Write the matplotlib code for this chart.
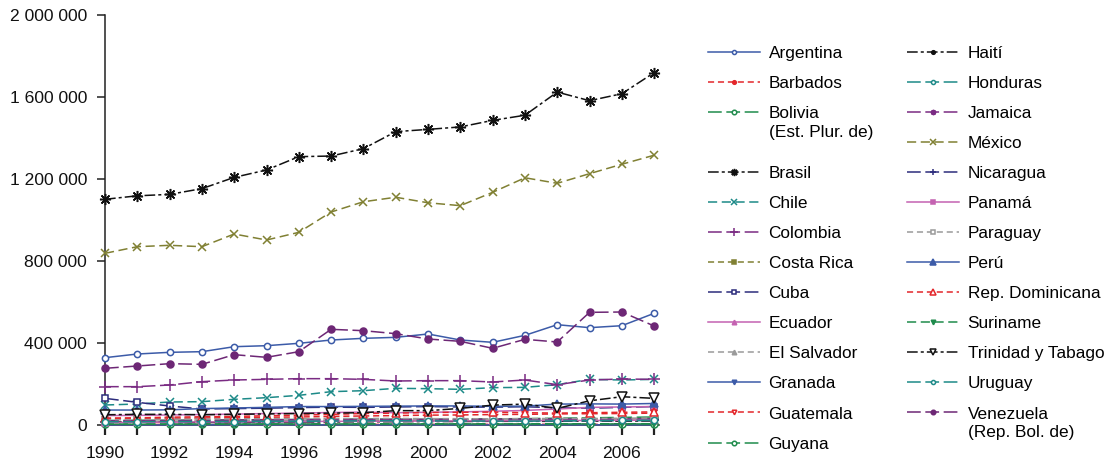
import matplotlib
matplotlib.use("Agg")
import matplotlib.pyplot as plt
from matplotlib.lines import Line2D
from matplotlib.ticker import FuncFormatter, MultipleLocator, FixedLocator

plt.rcParams['font.family'] = ['Liberation Sans', 'DejaVu Sans']

years = list(range(1990, 2008))

argentina = [328400, 346300, 354500, 357700, 382000, 386900, 398400, 414600, 422800,
             427600, 443900, 414600, 403300, 437400, 489300, 474800, 484400, 544800]
barbados = [2600, 2600, 2700, 2700, 2800, 2800, 2900, 3000, 3100,
            3200, 3200, 3300, 3300, 3400, 3400, 3500, 3500, 3600]
bolivia = [22000, 23000, 23000, 24000, 25000, 26000, 27000, 28000, 29000,
           28000, 28000, 29000, 30000, 31000, 33000, 35000, 37000, 39000]
brasil = [1101000, 1118000, 1125000, 1153000, 1208000, 1244000, 1309000, 1312000, 1348000,
          1431000, 1442000, 1454000, 1486000, 1511000, 1624000, 1582000, 1616000, 1719000]
chile = [97600, 102400, 112200, 113800, 125200, 133300, 144700, 162600, 167400,
         178900, 177200, 174000, 182100, 183700, 196700, 222700, 219500, 222700]
colombia = [187000, 187000, 195100, 211400, 219500, 222700, 226000, 226000, 222700,
            214600, 216300, 216300, 209800, 219500, 196700, 219500, 224400, 222700]
costa_rica = [15000, 16000, 17000, 18000, 19000, 20000, 21000, 22000, 23000,
              24000, 24000, 25000, 26000, 27000, 28000, 29000, 30000, 32000]
cuba = [130000, 110600, 92700, 78000, 80000, 82000, 85000, 87000, 86000,
        88000, 90000, 88000, 87000, 89000, 84000, 82000, 86000, 90000]
ecuador = [46000, 47000, 49000, 51000, 53000, 56000, 58000, 61000, 63000,
           60000, 62000, 64000, 67000, 71000, 78000, 86000, 88000, 90000]
el_salvador = [17000, 18000, 19000, 20000, 22000, 23000, 24000, 24000, 25000,
               25000, 26000, 27000, 27000, 28000, 29000, 29000, 30000, 30000]
granada = [500, 520, 540, 560, 580, 600, 620, 640, 660,
           680, 700, 720, 740, 760, 780, 800, 820, 840]
guatemala = [30000, 31000, 33000, 34000, 36000, 38000, 39000, 42000, 44000,
             46000, 48000, 49000, 51000, 52000, 54000, 55000, 56000, 58000]
guyana = [3900, 4000, 4100, 4300, 4500, 4800, 5000, 5100, 5200,
          5100, 5000, 5000, 4900, 4900, 5000, 5100, 5200, 5300]
haiti = [14000, 14000, 13000, 12000, 12000, 14000, 15000, 15000, 16000,
         16000, 17000, 17000, 18000, 18000, 18000, 19000, 19000, 20000]
honduras = [14000, 14000, 15000, 16000, 17000, 18000, 18000, 19000, 20000,
            21000, 22000, 23000, 24000, 25000, 26000, 27000, 28000, 29000]
jamaica = [20000, 21000, 22000, 23000, 24000, 25000, 26000, 27000, 27000,
           27000, 27000, 28000, 28000, 29000, 29000, 28000, 30000, 30000]
mexico = [837500, 869800, 876500, 869800, 931700, 902400, 939800, 1039000, 1089000,
          1111000, 1084000, 1070000, 1135000, 1206000, 1179000, 1226000, 1272000, 1316000]
nicaragua = [15000, 15000, 15000, 16000, 16000, 17000, 17000, 18000, 18000,
             19000, 19000, 20000, 20000, 21000, 21000, 22000, 22000, 22000]
panama = [12000, 13000, 14000, 15000, 15000, 16000, 17000, 18000, 18000,
          19000, 19000, 20000, 20000, 21000, 22000, 22000, 23000, 24000]
paraguay = [26000, 27000, 28000, 29000, 30000, 31000, 31000, 32000, 32000,
            32000, 31000, 31000, 30000, 31000, 32000, 32000, 33000, 34000]
peru = [73000, 73000, 74000, 80000, 83000, 86000, 90000, 90000, 91000,
        92000, 93000, 93000, 91000, 92000, 102000, 103000, 102000, 105000]
rep_dominicana = [34000, 35000, 38000, 40000, 42000, 45000, 48000, 52000, 56000,
                  58000, 61000, 62000, 63000, 60000, 58000, 60000, 62000, 64000]
suriname = [4600, 4700, 4800, 4800, 4900, 5000, 5100, 5200, 5300,
            5400, 5500, 5600, 5700, 5800, 5900, 6000, 6100, 6200]
trinidad = [50000, 52000, 52000, 50000, 52000, 54000, 56000, 58000, 60000,
            70000, 70000, 81000, 97000, 102000, 81000, 118000, 138000, 130000]
uruguay = [16000, 16000, 17000, 17000, 17000, 18000, 18000, 19000, 20000,
           21000, 20000, 20000, 19000, 19000, 20000, 21000, 22000, 23000]
venezuela = [276500, 287800, 299200, 295900, 343100, 330100, 357700, 466700, 460100,
             445500, 419500, 408100, 374000, 417900, 404900, 549600, 551200, 482900]

# colour palette
BLUE = '#3c5ba8'
RED = '#e3262b'
GREEN = '#1f8b4c'
BLACK = '#111111'
TEAL = '#1d8a88'
PURPLE = '#7a2b83'
OLIVE = '#808033'
NAVY = '#2c2c7c'
PINK = '#c462b1'
GRAY = '#9a9a9a'
PLUM = '#6d2775'

LONG = (0, (9, 3))
DASH = (0, (4, 2.5))
MID = (0, (6, 3))
DASHDOT = (0, (7, 2, 2, 2))

# name, values, colour, linestyle, marker, marker face ('w' = open), marker size
series = [
    ("Argentina", argentina, BLUE, '-', 'o', 'w', 4.5),
    ("Barbados", barbados, RED, DASH, 'o', None, 4),
    ("Bolivia\n(Est. Plur. de)", bolivia, GREEN, LONG, 'o', 'w', 5),
    ("Brasil", brasil, BLACK, DASHDOT, (8, 2, 0), None, 8),
    ("Chile", chile, TEAL, MID, 'x', None, 6),
    ("Colombia", colombia, PURPLE, LONG, '+', None, 8),
    ("Costa Rica", costa_rica, OLIVE, DASH, 's', None, 4),
    ("Cuba", cuba, NAVY, LONG, 's', 'w', 5),
    ("Ecuador", ecuador, PINK, '-', '^', None, 5),
    ("El Salvador", el_salvador, GRAY, DASH, '^', None, 5),
    ("Granada", granada, BLUE, '-', 'v', None, 5),
    ("Guatemala", guatemala, RED, DASH, 'v', 'w', 5),
    ("Guyana", guyana, GREEN, LONG, 'o', 'w', 5),
    ("Haití", haiti, BLACK, DASHDOT, 'o', None, 4),
    ("Honduras", honduras, TEAL, LONG, 'o', 'w', 4.5),
    ("Jamaica", jamaica, PURPLE, LONG, (8, 2, 0), None, 6),
    ("México", mexico, OLIVE, MID, 'x', None, 6),
    ("Nicaragua", nicaragua, NAVY, LONG, '+', None, 7),
    ("Panamá", panama, PINK, '-', 's', None, 4),
    ("Paraguay", paraguay, GRAY, DASH, 's', 'w', 4.5),
    ("Perú", peru, BLUE, '-', '^', None, 6),
    ("Rep. Dominicana", rep_dominicana, RED, DASH, '^', 'w', 6),
    ("Suriname", suriname, GREEN, MID, 'v', None, 5),
    ("Trinidad y Tabago", trinidad, BLACK, DASHDOT, 'v', 'w', 7),
    ("Uruguay", uruguay, TEAL, LONG, 'o', 'w', 4.5),
    ("Venezuela\n(Rep. Bol. de)", venezuela, PLUM, LONG, 'o', None, 5),
]

W, H = 1112, 470
fig = plt.figure(figsize=(W / 100, H / 100), dpi=100)
ax = fig.add_axes([105 / W, 1 - 425 / H, (659 - 105) / W, (425 - 15) / H])

handles = {}
for name, vals, col, ls, mk, mfc, ms in series:
    line, = ax.plot(years, vals, color=col, linestyle=ls, linewidth=1.1,
                    marker=mk, markersize=ms, markeredgewidth=1.1,
                    markerfacecolor=(mfc if mfc else col), markeredgecolor=col,
                    clip_on=False, zorder=3)
    handles[name] = line

ax.set_xlim(1990, 2007.15)
ax.set_ylim(0, 2000000)

ax.yaxis.set_major_locator(MultipleLocator(400000))
ax.yaxis.set_major_formatter(FuncFormatter(lambda v, p: f"{v:,.0f}".replace(",", " ")))
ax.xaxis.set_major_locator(FixedLocator(years))
ax.xaxis.set_major_formatter(FuncFormatter(lambda v, p: f"{int(v)}" if int(v) % 2 == 0 else ""))

for side in ('top', 'right'):
    ax.spines[side].set_visible(False)
for side in ('left', 'bottom'):
    ax.spines[side].set_linewidth(1.1)
    ax.spines[side].set_color('#222222')

ax.tick_params(axis='both', direction='out', length=6, width=1.1, color='#222222',
               labelsize=12.6, labelcolor='#111111')
ax.tick_params(axis='x', length=7, width=1.6, pad=8)
ax.tick_params(axis='y', pad=7)


def fpos(x, y):
    return (x / W, 1 - y / H)


blank = Line2D([], [], linestyle='none', marker='none')
names = [s[0] for s in series]
col1 = names[:13]
col2 = names[13:]

h1, l1 = [], []
for n in col1:
    h1.append(handles[n])
    l1.append(n.split("\n")[0])
    if n.startswith("Bolivia"):
        h1.append(blank)
        l1.append("")
h2 = [handles[n] for n in col2]
l2 = [n.split("\n")[0] for n in col2]

FS = 12.4
common = dict(loc='upper left', frameon=False, fontsize=FS, handlelength=3.0,
              handletextpad=0.52, labelspacing=0.87, borderpad=0, borderaxespad=0,
              markerscale=0.65, numpoints=1)
fig.legend(h1, l1, bbox_to_anchor=fpos(708, 46), **common)
fig.legend(h2, l2, bbox_to_anchor=fpos(907, 46), **common)

fig.text(*fpos(769, 132), "(Est. Plur. de)", fontsize=FS, va='center', ha='left')
fig.text(*fpos(968, 433), "(Rep. Bol. de)", fontsize=FS, va='center', ha='left')

fig.savefig("out.png", dpi=100)
